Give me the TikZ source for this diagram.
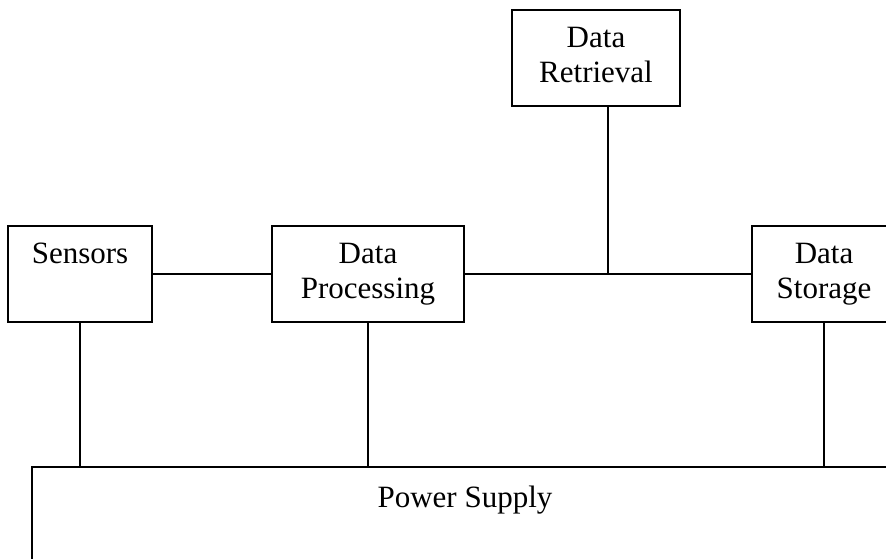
\documentclass[tikz,border=0pt]{standalone}
\usepackage{fontspec}
\setmainfont{Liberation Serif}
\tikzset{>=stealth,
  block/.style={draw, line width=1.5pt, align=center, inner sep=0pt,
    text height=38pt, text depth=58pt, anchor=north,
    font=\fontsize{31}{35}\selectfont},
  twoline/.style={block, text height=73pt, text depth=23pt},
  wire/.style={line width=1.5pt}}

\begin{document}
\begin{tikzpicture}[x=1pt,y=-1pt]
\useasboundingbox (0,0) rectangle (886,558);
% blocks
\node[block, minimum width=144pt] (sens) at (80,225) {Sensors};
\node[twoline, minimum width=192pt] (proc) at (368,225) {Data\\Processing};
\node[twoline, minimum width=168pt] (retr) at (596,9) {Data\\Retrieval};
\node[twoline, minimum width=144pt] (stor) at (824,225) {Data\\Storage};
\node[block, minimum width=866pt, text height=41pt, text depth=150pt] (power) at (465,466) {Power Supply};
\coordinate (join) at (608,273);
% bus
\draw[wire] (sens) -- (proc);
\draw[wire] (proc) -- (stor);
\draw[wire] (retr.south -| join) -- (join);
% supply lines
\draw[wire] (sens.south) -- (sens.south |- power.north);
\draw[wire] (proc.south) -- (proc.south |- power.north);
\draw[wire] (stor.south) -- (stor.south |- power.north);
\end{tikzpicture}
\end{document}
